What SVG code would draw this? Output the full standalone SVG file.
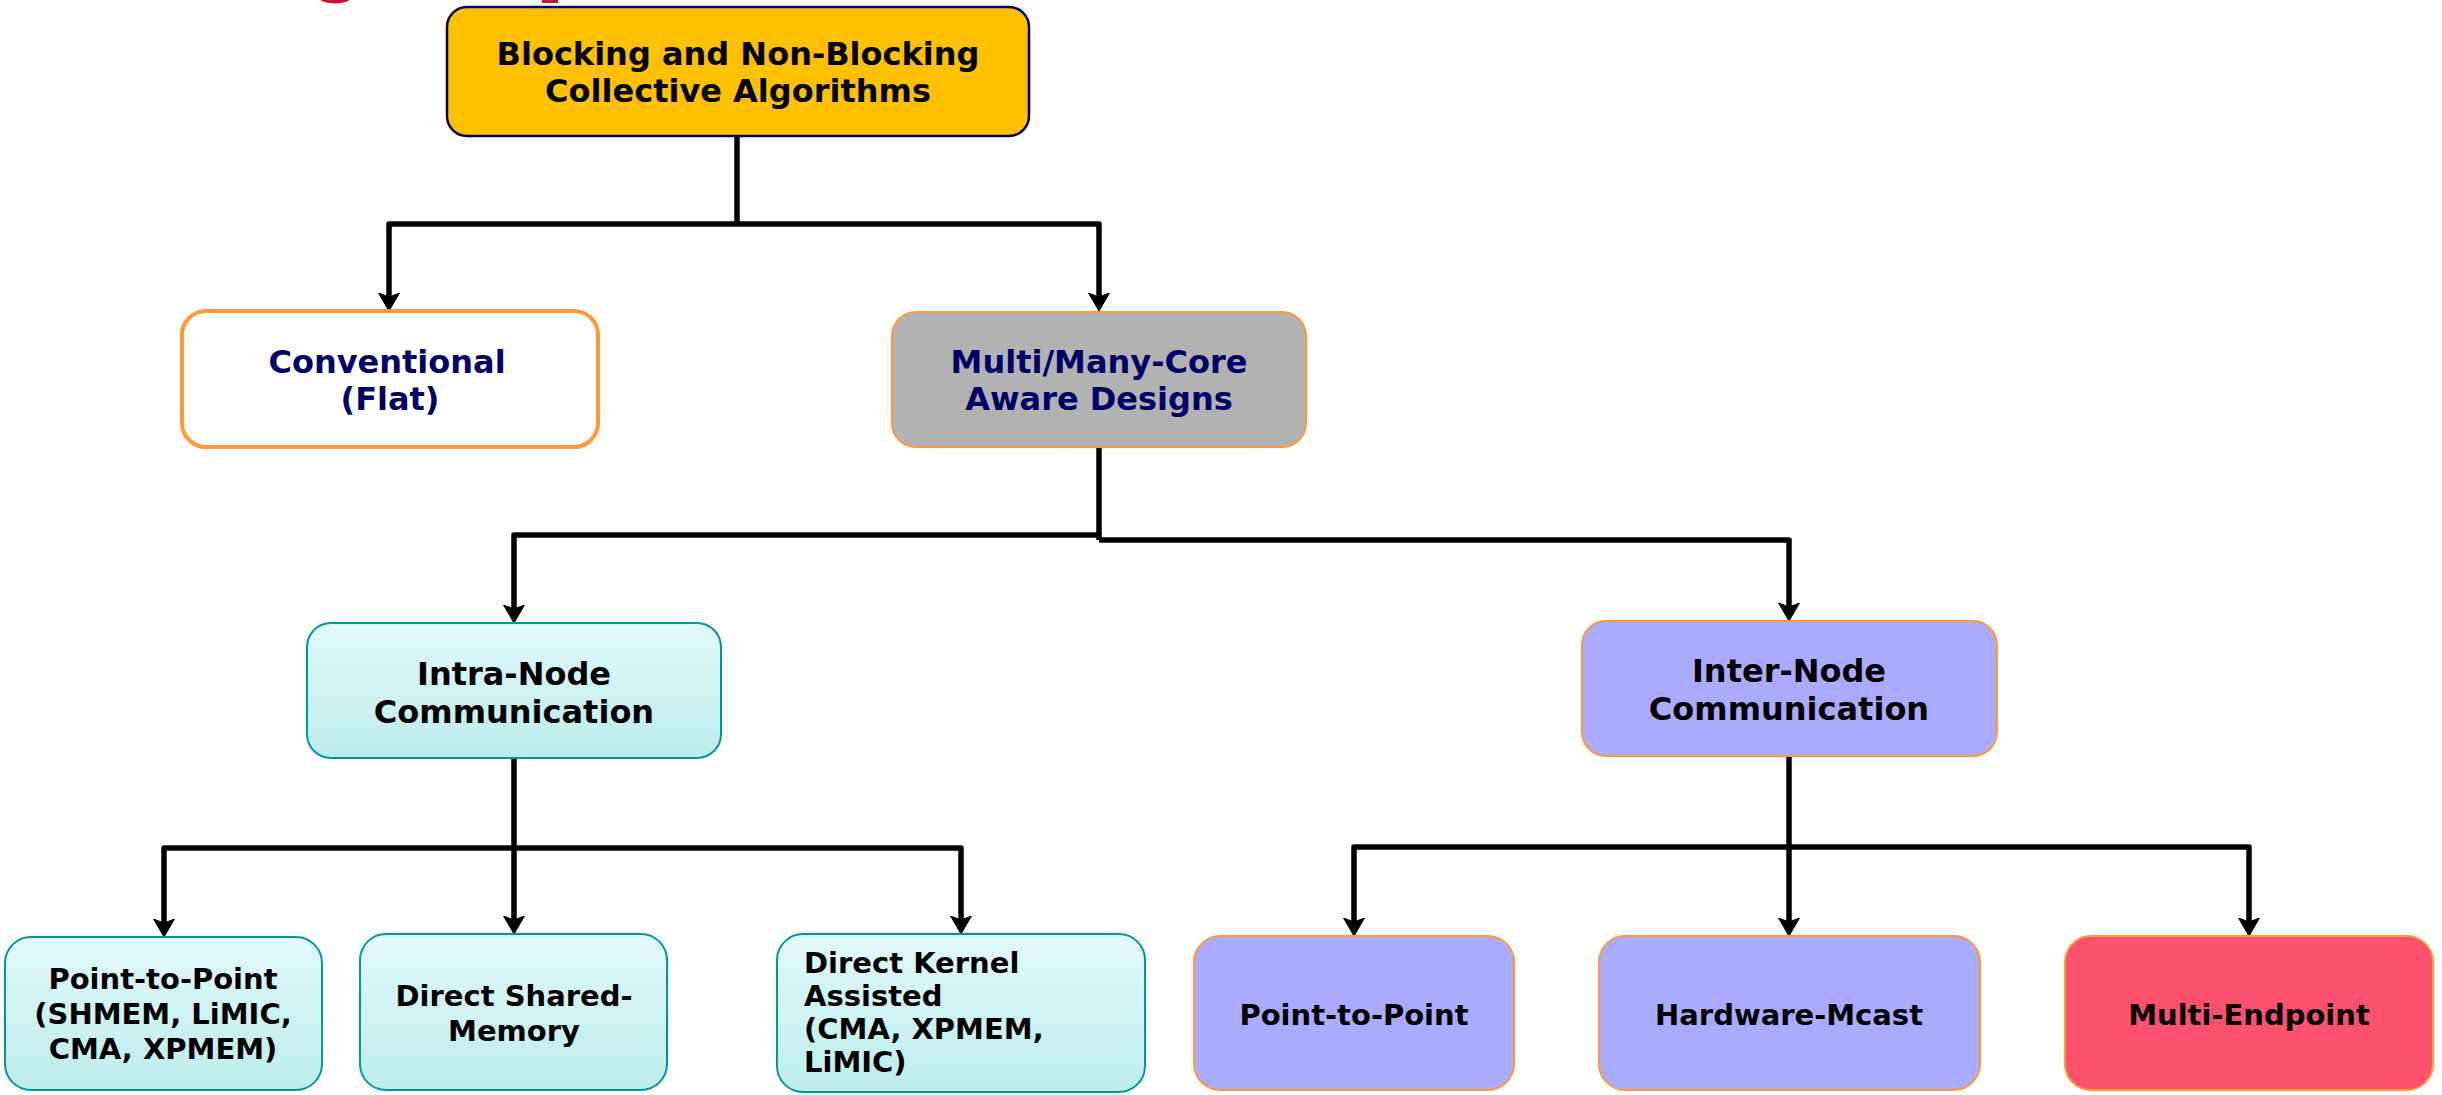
<svg xmlns="http://www.w3.org/2000/svg" width="2442" height="1095" viewBox="0 0 2442 1095">
  <defs>
    <linearGradient id="intraFill" x1="0" y1="0" x2="0" y2="1">
      <stop offset="0" stop-color="#E2F9FB"/>
      <stop offset="1" stop-color="#BCEDEB"/>
    </linearGradient>
    <marker id="arrow" markerUnits="userSpaceOnUse" viewBox="0 -12 20 24" markerWidth="20" markerHeight="24" refX="8" refY="0" orient="auto">
      <path d="M0,-10.5 L18,0 L0,10.5 L4,0 Z" fill="#000" stroke="#000" stroke-width="1" stroke-linejoin="round"/>
    </marker>
    <style>
      text { font-family: "DejaVu Sans", "Liberation Sans", sans-serif; font-weight: bold; }
      .big { font-size: 32px; }
      .small { font-size: 29px; }
      .mid { text-anchor: middle; }
      .navy { fill: #000066; }
      .ink { fill: #000000; }
      .root { fill: #FFC000; stroke: #000066; stroke-width: 2.5; }
      .flat { fill: #FFFFFF; stroke: #FF9933; stroke-width: 4; }
      .core { fill: #B2B2B2; stroke: #FF9933; stroke-width: 2; }
      .intra { fill: url(#intraFill); stroke: #009999; stroke-width: 2; }
      .inter { fill: #AAAAFF; stroke: #FF9933; stroke-width: 2; }
      .endpoint { fill: #FB506E; stroke: #FF9933; stroke-width: 2; }
      .wire { fill: none; stroke: #000; stroke-width: 5.5; stroke-linejoin: round; }
      .arrowed { marker-end: url(#arrow); }
    </style>
  </defs>

  <rect width="2442" height="1095" fill="#FFFFFF"/>

  <!-- logo fragments along the top edge -->
  <ellipse cx="335" cy="-10" rx="22" ry="13.5" fill="#D0103A"/>
  <rect x="542" y="0" width="16" height="3" fill="#D0103A"/>

  <g id="connectors">
    <!-- root to first level -->
    <path class="wire" d="M737,136 V224"/>
    <path class="wire arrowed" d="M737,224 H389 V301"/>
    <path class="wire arrowed" d="M737,224 H1099 V301"/>
    <!-- multi/many-core split -->
    <path class="wire" d="M1099,447 V540"/>
    <path class="wire arrowed" d="M1099,535 H514 V613"/>
    <path class="wire arrowed" d="M1099,540 H1789 V611"/>
    <!-- intra-node children -->
    <path class="wire" d="M514,758 V848"/>
    <path class="wire arrowed" d="M514,848 H164 V927"/>
    <path class="wire arrowed" d="M514,848 V924"/>
    <path class="wire arrowed" d="M514,848 H961 V924"/>
    <!-- inter-node children -->
    <path class="wire" d="M1789,756 V847"/>
    <path class="wire arrowed" d="M1789,847 H1354 V926"/>
    <path class="wire arrowed" d="M1789,847 V926"/>
    <path class="wire arrowed" d="M1789,847 H2249 V926"/>
  </g>

  <g id="root">
    <rect class="root" x="447" y="7" width="582" height="129" rx="20"/>
    <text class="big mid ink" x="738" y="65">Blocking and Non-Blocking</text>
    <text class="big mid ink" x="738" y="102">Collective Algorithms</text>
  </g>

  <g id="conventional">
    <rect class="flat" x="182" y="311" width="416" height="136" rx="24"/>
    <text class="big mid navy" x="387" y="373">Conventional</text>
    <text class="big mid navy" x="390" y="410">(Flat)</text>
  </g>

  <g id="multicore">
    <rect class="core" x="892" y="312" width="414" height="135" rx="24"/>
    <text class="big mid navy" x="1099" y="373">Multi/Many-Core</text>
    <text class="big mid navy" x="1099" y="410">Aware Designs</text>
  </g>

  <g id="intra-node">
    <rect class="intra" x="307" y="623" width="414" height="135" rx="24"/>
    <text class="big mid ink" x="514" y="685">Intra-Node</text>
    <text class="big mid ink" x="514" y="723">Communication</text>
  </g>

  <g id="inter-node">
    <rect class="inter" x="1582" y="621" width="415" height="135" rx="24"/>
    <text class="big mid ink" x="1789" y="682">Inter-Node</text>
    <text class="big mid ink" x="1789" y="720">Communication</text>
  </g>

  <g id="intra-p2p">
    <rect class="intra" x="5" y="937" width="317" height="153" rx="26"/>
    <text class="small mid ink" x="163" y="989">Point-to-Point</text>
    <text class="small mid ink" x="163" y="1024">(SHMEM, LiMIC,</text>
    <text class="small mid ink" x="163" y="1059">CMA, XPMEM)</text>
  </g>

  <g id="direct-shm">
    <rect class="intra" x="360" y="934" width="307" height="156" rx="26"/>
    <text class="small mid ink" x="514" y="1006">Direct Shared-</text>
    <text class="small mid ink" x="514" y="1041">Memory</text>
  </g>

  <g id="direct-kernel">
    <rect class="intra" x="777" y="934" width="368" height="158" rx="26"/>
    <text class="small ink" x="804" y="973">Direct Kernel</text>
    <text class="small ink" x="804" y="1006">Assisted</text>
    <text class="small ink" x="804" y="1039">(CMA, XPMEM,</text>
    <text class="small ink" x="804" y="1072">LiMIC)</text>
  </g>

  <g id="inter-p2p">
    <rect class="inter" x="1194" y="936" width="320" height="154" rx="26"/>
    <text class="small mid ink" x="1354" y="1025">Point-to-Point</text>
  </g>

  <g id="hw-mcast">
    <rect class="inter" x="1599" y="936" width="381" height="154" rx="26"/>
    <text class="small mid ink" x="1789" y="1025">Hardware-Mcast</text>
  </g>

  <g id="multi-endpoint">
    <rect class="endpoint" x="2065" y="936" width="368" height="154" rx="26"/>
    <text class="small mid ink" x="2249" y="1025">Multi-Endpoint</text>
  </g>
</svg>
